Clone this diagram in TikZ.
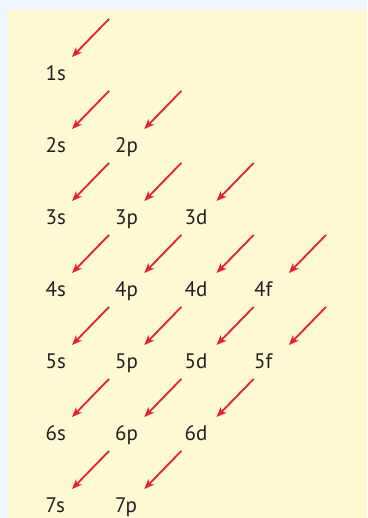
\documentclass[tikz,border=0pt]{standalone}
\usepackage{fontspec}
\setmainfont{PT Sans}
\usetikzlibrary{arrows.meta}
\definecolor{outerbg}{HTML}{F0F7FE}
\definecolor{panel}{HTML}{FFFAD4}
\definecolor{arrowred}{HTML}{E8202A}
\definecolor{txt}{HTML}{231F20}
\tikzset{
  orb/.style={anchor=base west, inner sep=0pt, font=\fontsize{21}{21}\selectfont, text=txt},
  fillarrow/.style={draw=arrowred, line width=1.8pt, -{Stealth[length=10pt,width=8pt,inset=3pt]}}
}
\begin{document}
\begin{tikzpicture}[x=1pt,y=-1pt]
\fill[outerbg] (0,0) rectangle (367,518);
\fill[panel] (8,10) rectangle (367,518);
\useasboundingbox (0,0) rectangle (367,518);
% labels: columns and rows
\foreach \lab/\c/\r in {1s/0/0, 2s/0/1, 2p/1/1, 3s/0/2, 3p/1/2, 3d/2/2,
  4s/0/3, 4p/1/3, 4d/2/3, 4f/3/3, 5s/0/4, 5p/1/4, 5d/2/4, 5f/3/4,
  6s/0/5, 6p/1/5, 6d/2/5, 7s/0/6, 7p/1/6}{
  \node[orb] (n\lab) at ({45.5+69.5*\c},{80.5+72*\r}) {\lab};
  \coordinate (s\lab) at ({109+72.3*\c},{19+72*\r});
  \coordinate (e\lab) at ({72+72.3*\c},{57+72*\r});
  \draw[fillarrow] (s\lab) -- (e\lab);
}
\end{tikzpicture}
\end{document}
